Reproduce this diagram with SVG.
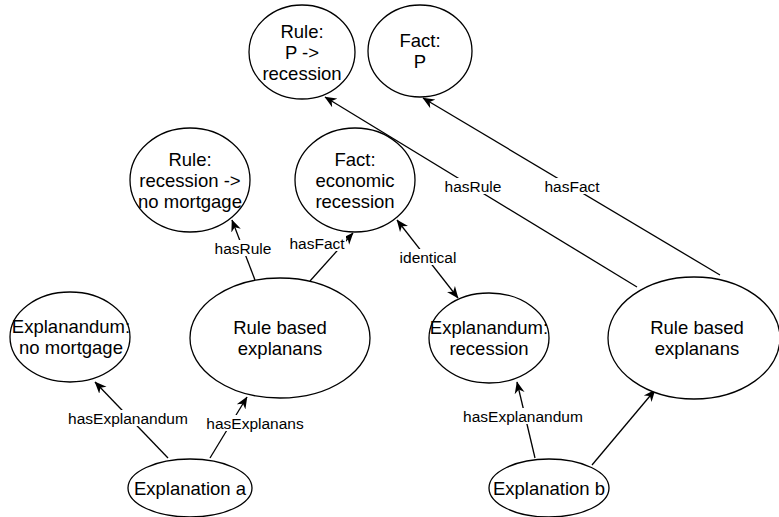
<svg xmlns="http://www.w3.org/2000/svg" width="779" height="517" viewBox="0 0 779 517">
<style>
.n ellipse{fill:#fff;stroke:#000;stroke-width:1.3}
.n text{font-family:"Liberation Sans",Arial,sans-serif;font-size:18.5px;fill:#000;text-anchor:middle}
.e line{stroke:#000;stroke-width:1.3;fill:none}
.e .a{marker-end:url(#arr)}
.e .b{marker-end:url(#arr);marker-start:url(#arr)}
.lb rect{fill:#fff}
.lb text{font-family:"Liberation Sans",Arial,sans-serif;font-size:15.5px;fill:#000;text-anchor:middle}
</style>
<defs>
<marker id="arr" viewBox="0 0 10 10" refX="9.5" refY="5" markerWidth="12" markerHeight="12" markerUnits="userSpaceOnUse" orient="auto-start-reverse">
<path d="M0,0.8 L10,5 L0,9.2 L3,5 z" fill="#000"/>
</marker>
</defs>
<rect width="779" height="517" fill="#fff"/>
<g id="connectors" class="e">
<line class="a" x1="637" y1="287" x2="325" y2="97"/>
<line class="a" x1="720" y1="275" x2="423" y2="98"/>
<line class="a" x1="255" y1="280" x2="232" y2="220"/>
<line class="a" x1="310" y1="281" x2="353" y2="233"/>
<line class="b" x1="397" y1="220" x2="458" y2="298"/>
<line class="a" x1="168" y1="458" x2="95" y2="382"/>
<line class="a" x1="210" y1="458" x2="247" y2="397"/>
<line class="a" x1="535" y1="458" x2="517" y2="382"/>
<line class="a" x1="592" y1="465" x2="655" y2="390"/>
</g>
<g id="ruleP" class="n"><ellipse cx="302" cy="52" rx="53" ry="47"/><text x="302" y="37.5">Rule:</text><text x="302" y="58.5">P -&gt;</text><text x="302" y="79.5">recession</text></g>
<g id="factP" class="n"><ellipse cx="420" cy="51" rx="52" ry="46"/><text x="420" y="47">Fact:</text><text x="420" y="68">P</text></g>
<g id="ruleRec" class="n"><ellipse cx="190" cy="180" rx="60" ry="52"/><text x="190" y="165.5">Rule:</text><text x="190" y="186.5">recession -&gt;</text><text x="190" y="207.5">no mortgage</text></g>
<g id="factEcon" class="n"><ellipse cx="355" cy="180" rx="60" ry="52"/><text x="355" y="165.5">Fact:</text><text x="355" y="186.5">economic</text><text x="355" y="207.5">recession</text></g>
<g id="expNoMortgage" class="n"><ellipse cx="70" cy="337" rx="60" ry="45"/><text x="71" y="333">Explanandum:</text><text x="71" y="354">no mortgage</text></g>
<g id="explanansA" class="n"><ellipse cx="280" cy="338" rx="90" ry="60"/><text x="280" y="334">Rule based</text><text x="280" y="355">explanans</text></g>
<g id="expRecession" class="n"><ellipse cx="489" cy="338" rx="60" ry="45"/><text x="489" y="334">Explanandum:</text><text x="489" y="355">recession</text></g>
<g id="explanansB" class="n"><ellipse cx="694" cy="338" rx="86" ry="61"/><text x="697" y="334">Rule based</text><text x="697" y="355">explanans</text></g>
<g id="explanationA" class="n"><ellipse cx="190" cy="488" rx="62" ry="29"/><text x="190" y="494.5">Explanation a</text></g>
<g id="explanationB" class="n"><ellipse cx="549" cy="488" rx="60" ry="29"/><text x="549" y="494.5">Explanation b</text></g>
<g id="labels" class="lb">
<rect x="445" y="178" width="56" height="16"/><text x="473" y="191.5">hasRule</text>
<rect x="543" y="178" width="58" height="16"/><text x="572" y="191.5">hasFact</text>
<rect x="215" y="240" width="56" height="16"/><text x="243" y="253.5">hasRule</text>
<rect x="288" y="235" width="58" height="16"/><text x="317" y="248.5">hasFact</text>
<rect x="399" y="249" width="58" height="16"/><text x="428" y="262.5">identical</text>
<rect x="66" y="410" width="124" height="16"/><text x="128" y="423.5">hasExplanandum</text>
<rect x="204" y="415" width="102" height="16"/><text x="255" y="428.5">hasExplanans</text>
<rect x="461" y="408" width="124" height="16"/><text x="523" y="421.5">hasExplanandum</text>
</g>
</svg>
